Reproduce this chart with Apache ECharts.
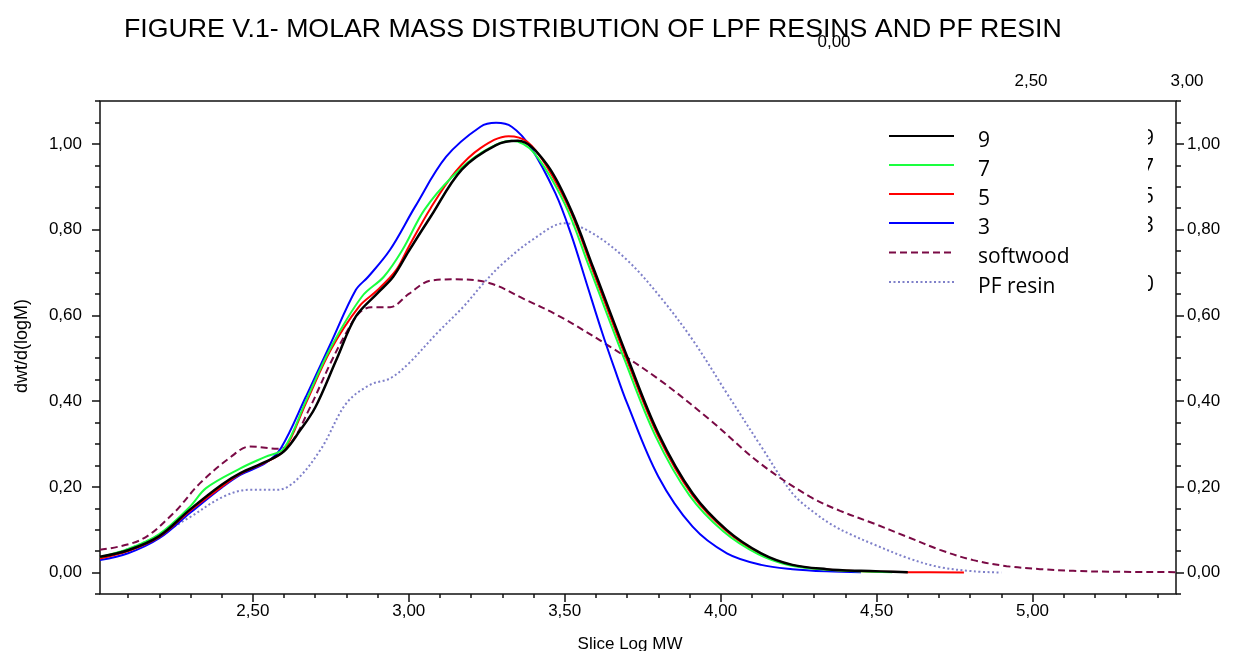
<!DOCTYPE html>
<html><head><meta charset="utf-8">
<script src="https://cdn.jsdelivr.net/npm/echarts@6/dist/echarts.min.js"></script>
<style>html,body{margin:0;padding:0;background:#fff}#c{width:1235px;height:651px}</style>
</head><body><div id="c"></div><script>
// ---------- data ----------
const titleText = 'FIGURE V.1- MOLAR MASS DISTRIBUTION OF LPF RESINS AND PF RESIN';
const xAxisName = 'Slice Log MW';
const yAxisName = 'dwt/d(logM)';
const seriesNames = ['9', '7', '5', '3', 'softwood', 'PF resin'];
const topAxisLabels = ['0,00', '2,50', '3,00'];
const clippedGlyphs = ['9', '7', '5', '3', '0'];

const x9 = [2.01,2.10,2.20,2.30,2.40,2.46,2.54,2.60,2.65,2.70,2.77,2.83,2.90,2.95,3.00,3.07,3.17,3.28,3.35,3.44,3.52,3.59,3.70,3.80,3.91,4.02,4.13,4.23,4.34,4.45,4.60];
const y9 = [0.037,0.052,0.085,0.148,0.205,0.232,0.258,0.283,0.33,0.385,0.50,0.597,0.652,0.69,0.75,0.83,0.94,0.997,1.007,0.955,0.846,0.714,0.504,0.325,0.185,0.099,0.045,0.018,0.008,0.004,0.001];

const x7 = [2.01,2.10,2.20,2.30,2.35,2.46,2.54,2.60,2.67,2.75,2.85,2.92,2.98,3.05,3.14,3.23,3.33,3.40,3.50,3.58,3.69,3.79,3.90,4.01,4.12,4.22,4.33,4.44,4.55];
const y7 = [0.036,0.055,0.09,0.155,0.197,0.243,0.27,0.29,0.40,0.525,0.644,0.69,0.753,0.846,0.924,0.978,1.007,0.98,0.86,0.71,0.50,0.32,0.18,0.095,0.043,0.017,0.007,0.003,0.001];

const x5 = [2.01,2.10,2.20,2.30,2.40,2.46,2.54,2.60,2.67,2.75,2.84,2.90,2.96,3.00,3.07,3.15,3.23,3.32,3.38,3.44,3.52,3.59,3.70,3.80,3.91,4.02,4.13,4.23,4.34,4.45,4.60,4.78];
const y5 = [0.033,0.05,0.083,0.145,0.2,0.23,0.257,0.285,0.395,0.52,0.62,0.659,0.706,0.76,0.85,0.935,0.99,1.018,1.005,0.95,0.84,0.705,0.495,0.318,0.18,0.096,0.043,0.017,0.007,0.003,0.001,0.0];

const x3 = [2.01,2.10,2.20,2.30,2.40,2.46,2.54,2.59,2.67,2.75,2.83,2.87,2.94,3.02,3.12,3.23,3.28,3.33,3.39,3.47,3.52,3.57,3.62,3.66,3.70,3.80,3.91,4.02,4.13,4.23,4.34,4.45];
const y3 = [0.029,0.045,0.08,0.14,0.198,0.228,0.255,0.29,0.41,0.535,0.659,0.69,0.753,0.853,0.970,1.040,1.049,1.04,0.993,0.885,0.79,0.675,0.56,0.475,0.395,0.224,0.107,0.045,0.018,0.008,0.003,0.001];

const xSoft = [2.01,2.14,2.245,2.33,2.43,2.49,2.58,2.62,2.68,2.75,2.80,2.84,2.88,2.94,3.00,3.07,3.15,3.26,3.37,3.485,3.645,3.805,3.966,4.126,4.286,4.383,4.489,4.596,4.703,4.81,4.917,5.024,5.13,5.25,5.46];
const ySoft = [0.053,0.076,0.138,0.208,0.270,0.294,0.289,0.30,0.38,0.49,0.56,0.605,0.619,0.619,0.650,0.681,0.684,0.675,0.638,0.597,0.527,0.449,0.356,0.255,0.177,0.144,0.115,0.084,0.053,0.029,0.015,0.008,0.004,0.002,0.001];

const xPF = [2.01,2.10,2.19,2.30,2.405,2.49,2.58,2.64,2.72,2.80,2.876,2.94,3.00,3.09,3.175,3.24,3.30,3.40,3.50,3.59,3.70,3.805,3.91,4.02,4.13,4.23,4.30,4.36,4.42,4.49,4.60,4.70,4.81,4.90];
const yPF = [0.033,0.055,0.084,0.130,0.177,0.193,0.193,0.216,0.29,0.395,0.438,0.453,0.488,0.558,0.620,0.675,0.72,0.778,0.815,0.791,0.729,0.644,0.543,0.418,0.294,0.185,0.14,0.11,0.088,0.066,0.034,0.013,0.003,0.0];

// ---------- layout / style ----------
const L = 100, R = 1176, T = 101, B = 594;
const XMIN = 2.01, XMAX = 5.46, YMIN = -0.05, YMAX = 1.10;
const px = v => L + (v - XMIN) / (XMAX - XMIN) * (R - L);
const py = v => B - (v - YMIN) / (YMAX - YMIN) * (B - T);
const fmt = v => Number(v).toFixed(2).replace('.', ',');
const AX = 'Liberation Sans, Arial, sans-serif';
const LG = 'Open Sans, sans-serif';
const axisCol = '#111';
const TICKFS = 17;

const styles = {
  '9': {color: '#000000', width: 2.5, dash: null},
  '7': {color: '#1aff3f', width: 2, dash: null},
  '5': {color: '#ff0000', width: 2, dash: null},
  '3': {color: '#0000ff', width: 2, dash: null},
  'softwood': {color: '#7a0a45', width: 2, dash: [7, 4]},
  'PF resin': {color: '#7f80c9', width: 2, dash: [2, 2.5]}
};

const pairs = (xs, ys) => xs.map((x, i) => [x, ys[i]]);
const chart = echarts.init(document.getElementById('c'), null, {renderer: 'canvas'});

const hiddenX = gi => ({gridIndex: gi, type: 'value', show: false, min: 0, max: 1});
const hiddenY = gi => ({gridIndex: gi, type: 'value', show: false, min: 0, max: 1});

const mkLine = (name, data, z) => ({
  name, type: 'line', data, xAxisIndex: 0, yAxisIndex: 0,
  symbol: 'none', smooth: 0.35, z,
  lineStyle: {color: styles[name].color, width: styles[name].width, type: styles[name].dash || 'solid'},
  itemStyle: {color: styles[name].color}
});

const legendLineY = [136, 165, 194, 223, 252.5, 282];
const legendEls = [];
seriesNames.forEach((n, i) => {
  const s = styles[n];
  legendEls.push({type: 'line', z: 10, shape: {x1: 889, y1: legendLineY[i], x2: 954, y2: legendLineY[i]},
    style: {stroke: s.color, lineWidth: 2, lineDash: s.dash}});
  legendEls.push({type: 'text', z: 10, style: {x: 978, y: legendLineY[i] + 5, text: n, font: '21px ' + LG, fill: '#000', textVerticalAlign: 'middle'}});
});

chart.setOption({
  animation: false,
  backgroundColor: '#fff',
  title: {
    text: titleText, left: 119, top: 11,
    textStyle: {fontFamily: AX, fontSize: 26.7, fontWeight: 'normal', color: '#000'}
  },
  grid: [
    {left: L, top: T, width: R - L, height: B - T, show: true, borderColor: axisCol, borderWidth: 1.5, backgroundColor: 'transparent'},
    {left: px(2.1), width: px(5.4) - px(2.1), top: T, height: B - T},
    {left: px(2.5), width: px(5.0) - px(2.5), top: T, height: B - T},
    {left: L, width: R - L, top: py(1.0), height: py(0) - py(1.0)}
  ],
  xAxis: [
    {gridIndex: 0, type: 'value', min: XMIN, max: XMAX, axisLine: {show: false}, axisTick: {show: false}, axisLabel: {show: false}, splitLine: {show: false}},
    {gridIndex: 1, type: 'value', min: 2.1, max: 5.4, interval: 0.1, position: 'bottom', offset: 3,
      axisLine: {show: false}, axisTick: {show: true, length: 4, lineStyle: {color: axisCol, width: 1.5}}, axisLabel: {show: false}, splitLine: {show: false}},
    {gridIndex: 2, type: 'value', min: 2.5, max: 5.0, interval: 0.5, position: 'bottom', offset: 3,
      axisLine: {show: false}, axisTick: {show: true, length: 8, lineStyle: {color: axisCol, width: 1.5}},
      axisLabel: {show: true, margin: 6, formatter: fmt, fontFamily: AX, fontSize: TICKFS, color: '#000'}, splitLine: {show: false}},
    hiddenX(3)
  ],
  yAxis: [
    {gridIndex: 0, type: 'value', min: YMIN, max: YMAX, interval: 0.05, position: 'left',
      axisLine: {show: false}, axisTick: {show: true, length: 5, lineStyle: {color: axisCol, width: 1.5}}, axisLabel: {show: false}, splitLine: {show: false}},
    {gridIndex: 0, type: 'value', min: YMIN, max: YMAX, interval: 0.05, position: 'right',
      axisLine: {show: false}, axisTick: {show: true, length: 5, lineStyle: {color: axisCol, width: 1.5}}, axisLabel: {show: false}, splitLine: {show: false}},
    hiddenY(1), hiddenY(2),
    {gridIndex: 3, type: 'value', min: 0, max: 1, interval: 0.2, position: 'left',
      axisLine: {show: false}, axisTick: {show: true, length: 8, lineStyle: {color: axisCol, width: 1.5}},
      axisLabel: {show: true, margin: 18, formatter: fmt, fontFamily: AX, fontSize: TICKFS, color: '#000'}, splitLine: {show: false}},
    {gridIndex: 3, type: 'value', min: 0, max: 1, interval: 0.2, position: 'right',
      axisLine: {show: false}, axisTick: {show: true, length: 8, lineStyle: {color: axisCol, width: 1.5}},
      axisLabel: {show: true, margin: 11, formatter: fmt, fontFamily: AX, fontSize: TICKFS, color: '#000'}, splitLine: {show: false}}
  ],
  graphic: [
    {type: 'text', x: 22, y: 346, rotation: Math.PI / 2, z: 10,
      style: {x: 0, y: 0, text: yAxisName, font: '18px ' + AX, fill: '#000', textAlign: 'center', textVerticalAlign: 'middle'}},
    {type: 'text', z: 10, style: {x: 630, y: 644, text: xAxisName, font: TICKFS + 'px ' + AX, fill: '#000', textAlign: 'center', textVerticalAlign: 'middle'}},
    {type: 'text', z: 10, style: {x: 834, y: 42, text: topAxisLabels[0], font: TICKFS + 'px ' + AX, fill: '#000', textAlign: 'center', textVerticalAlign: 'middle'}},
    {type: 'text', z: 10, style: {x: 1031, y: 81, text: topAxisLabels[1], font: TICKFS + 'px ' + AX, fill: '#000', textAlign: 'center', textVerticalAlign: 'middle'}},
    {type: 'text', z: 10, style: {x: 1187, y: 81, text: topAxisLabels[2], font: TICKFS + 'px ' + AX, fill: '#000', textAlign: 'center', textVerticalAlign: 'middle'}},
    ...legendEls,
    ...clippedGlyphs.map((g, i) => ({type: 'text', z: 10,
      style: {x: 1142, y: legendLineY[i < 4 ? i : 5] + 3, text: g, font: '21px ' + LG, fill: '#000', textVerticalAlign: 'middle'}})),
    {type: 'rect', z: 11, shape: {x: 1128, y: 118, width: 20, height: 185}, style: {fill: '#fff'}}
  ],
  series: [
    mkLine('PF resin', pairs(xPF, yPF), 2),
    mkLine('softwood', pairs(xSoft, ySoft), 3),
    mkLine('3', pairs(x3, y3), 4),
    mkLine('5', pairs(x5, y5), 5),
    mkLine('7', pairs(x7, y7), 6),
    mkLine('9', pairs(x9, y9), 7)
  ]
});
</script></body></html>
